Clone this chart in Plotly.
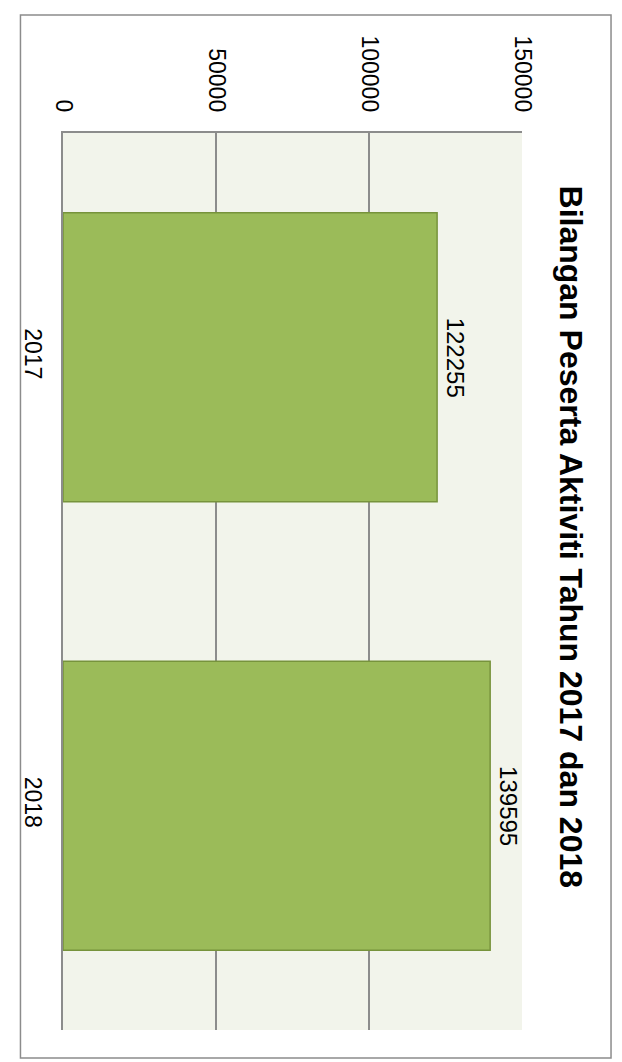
import plotly.graph_objects as go

categories = ["2017", "2018"]
values = [122255, 139595]
value_ticks = [0, 50000, 100000, 150000]
title_text = "Bilangan Peserta Aktiviti Tahun 2017 dan 2018"

# page body has an 8px margin; compensate so the figure lands on the window
OFF = 8
W, H = 622 - OFF, 1062 - OFF
L, T = 58 - OFF, 133 - OFF
pw, ph = 464, 897
R = W - L - pw
B = H - T - ph

def px(x):
    return (x - OFF - L) / pw

def py(y):
    return (T + ph - (y - OFF)) / ph

FONT = "Liberation Sans, Arial, sans-serif"

fig = go.Figure(go.Bar(
    y=categories, x=values, orientation="h",
    marker=dict(color="#9bbb59", line=dict(color="#77933c", width=1.5)),
    cliponaxis=False,
))

# category axis positions are indices (numeric-looking names would be read as numbers)
value_labels = [dict(
    x=v, y=i, xref="x", yref="y", text=str(v), textangle=90,
    showarrow=False, xanchor="left", yanchor="middle", xshift=3,
    font=dict(family=FONT, size=24, color="#000000"),
) for i, v in enumerate(values)]

fig.update_layout(
    width=W, height=H,
    margin=dict(l=L, r=R, t=T, b=B, pad=0),
    paper_bgcolor="white", plot_bgcolor="#f2f4eb",
    bargap=0.356, showlegend=False,
    font=dict(family=FONT, color="#000000"),
    xaxis=dict(
        range=[0, 150000], side="top", tickvals=value_ticks,
        ticktext=[str(v) for v in value_ticks], tickangle=90,
        tickfont=dict(size=23), showgrid=True, gridcolor="#8c8c8c", gridwidth=1.5,
        zeroline=False, showline=True, linecolor="#8c8c8c", linewidth=1.5,
        ticks="", ticklabelstandoff=11,
    ),
    yaxis=dict(
        type="category", categoryarray=categories, categoryorder="array",
        autorange="reversed", tickangle=90,
        tickfont=dict(size=23), showgrid=False, zeroline=False,
        showline=True, linecolor="#8c8c8c", linewidth=1.5, ticks="",
        ticklabelstandoff=9,
    ),
    annotations=value_labels + [dict(
        text="<b>" + title_text + "</b>", textangle=90, showarrow=False,
        xref="paper", yref="paper", x=px(572), y=py(537),
        xanchor="center", yanchor="middle",
        font=dict(family=FONT, size=32, color="#000000"),
    )],
    shapes=[dict(
        type="rect", xref="paper", yref="paper",
        x0=px(15), x1=px(612), y0=py(1058), y1=py(15),
        line=dict(color="#8c8c8c", width=1.5), fillcolor="rgba(0,0,0,0)",
        layer="below",
    )],
)

fig.write_html("out.html")
